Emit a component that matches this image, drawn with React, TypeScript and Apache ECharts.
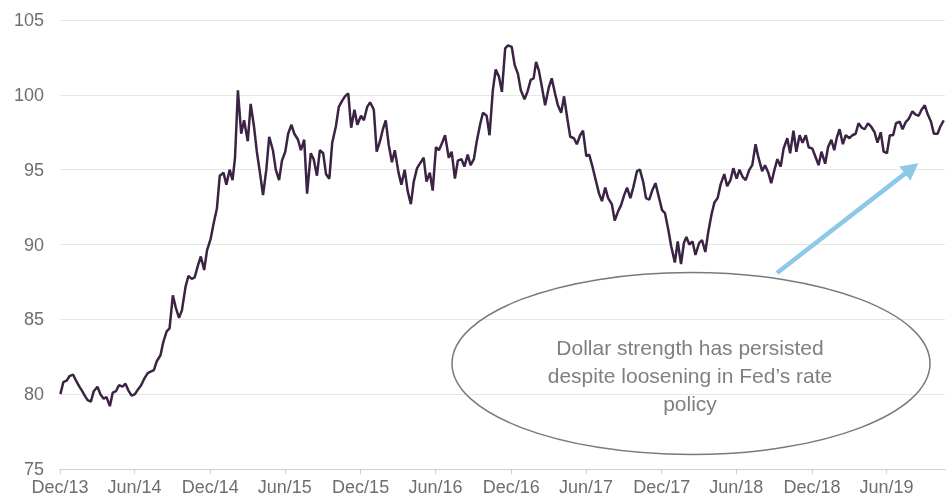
import React, { useEffect, useRef } from "react";
import * as echarts from "echarts";

// Tick labels shown on the x axis (each marks the end of that month)
const TICK_LABELS = ["Dec/13", "Jun/14", "Dec/14", "Jun/15", "Dec/15", "Jun/16", "Dec/16", "Jun/17", "Dec/17", "Jun/18", "Dec/18", "Jun/19"];
const MONTHS = ["Jan", "Feb", "Mar", "Apr", "May", "Jun", "Jul", "Aug", "Sep", "Oct", "Nov", "Dec"];
// Sampling days within each month (roughly weekly)
const WEEK_DAYS = [1, 8, 16, 23];
const Y_TICKS = [75, 80, 85, 90, 95, 100, 105];

// Dollar index, weekly readings, four per month, Jan..Dec of each year
const VALUES_2014 = [
  80.0, 80.8, 80.9, 81.2, 81.3, 80.9, 80.5, 80.2, 79.9, 79.6, 79.5, 80.2,
  80.5, 80.0, 79.7, 79.8, 79.2, 80.1, 80.2, 80.6, 80.5, 80.7, 80.2, 79.9,
  80.0, 80.3, 80.6, 81.0, 81.4, 81.5, 81.6, 82.2, 82.6, 83.5, 84.2, 84.4,
  86.6, 85.8, 85.1, 85.6, 87.2, 87.9, 87.7, 87.8, 88.6, 89.2, 88.3, 89.6,
];
const VALUES_2015 = [
  90.4, 91.4, 92.4, 94.6, 94.8, 94.0, 95.0, 94.3, 95.8, 100.3, 97.4, 98.3,
  96.9, 99.4, 97.9, 96.2, 94.7, 93.3, 95.0, 97.2, 96.3, 95.0, 94.3, 95.6,
  96.2, 97.4, 98.0, 97.4, 97.0, 96.3, 97.0, 93.4, 96.1, 95.7, 94.6, 96.3,
  96.1, 94.7, 94.4, 96.8, 97.9, 99.2, 99.6, 99.9, 100.1, 97.8, 99.0, 98.0,
];
const VALUES_2016 = [
  98.6, 98.3, 99.2, 99.5, 99.0, 96.2, 96.9, 97.7, 98.3, 96.7, 95.5, 96.3,
  94.8, 94.0, 95.0, 93.6, 92.7, 94.2, 95.1, 95.4, 95.8, 94.2, 94.8, 93.6,
  96.5, 96.3, 96.8, 97.3, 95.8, 96.2, 94.4, 95.6, 95.7, 95.2, 96.0, 95.3,
  95.7, 96.9, 98.0, 98.8, 98.6, 97.3, 100.3, 101.7, 101.2, 100.2, 103.1, 103.3,
];
const VALUES_2017 = [
  103.2, 102.0, 101.4, 100.3, 99.7, 100.2, 101.0, 101.1, 102.2, 101.6, 100.4, 99.3,
  100.5, 101.1, 100.1, 99.3, 98.8, 99.9, 98.4, 97.2, 97.1, 96.7, 97.3, 97.6,
  95.9, 96.0, 95.2, 94.4, 93.4, 92.9, 93.8, 93.1, 92.7, 91.6, 92.2, 92.6,
  93.3, 93.8, 93.1, 93.8, 94.9, 95.0, 94.2, 93.1, 93.0, 93.6, 94.1, 93.3,
];
const VALUES_2018 = [
  92.3, 92.1, 91.0, 89.9, 88.8, 90.2, 88.7, 90.1, 90.5, 90.0, 90.2, 89.3,
  90.1, 90.3, 89.5, 90.8, 92.0, 92.8, 93.1, 94.0, 94.7, 93.9, 94.3, 95.1,
  94.4, 95.0, 94.5, 94.3, 95.0, 95.3, 96.7, 95.8, 94.9, 95.3, 94.8, 94.1,
  95.0, 95.7, 95.2, 96.4, 97.1, 96.1, 97.6, 96.2, 97.3, 96.8, 97.3, 96.5,
];
const VALUES_2019 = [
  96.4, 95.9, 95.3, 96.2, 95.4, 96.5, 97.0, 96.3, 97.1, 97.7, 96.7, 97.3,
  97.1, 97.3, 97.4, 98.1, 97.8, 97.7, 98.1, 97.9, 97.5, 96.8, 97.5, 96.2,
  96.1, 97.3, 97.3, 98.1, 98.2, 97.7, 98.2, 98.4, 98.9, 98.7, 98.6, 99.0,
  99.3, 98.7, 98.2, 97.4, 97.4, 97.9, 98.3,
];
const YEARS = [2014, 2015, 2016, 2017, 2018, 2019];
const VALUES_BY_YEAR = [VALUES_2014, VALUES_2015, VALUES_2016, VALUES_2017, VALUES_2018, VALUES_2019];

const ANNOTATION = "Dollar strength has persisted\ndespite loosening in Fed\u2019s rate\npolicy";

function buildData(): [number, number][] {
  const out: [number, number][] = [];
  YEARS.forEach((yr, yi) => {
    VALUES_BY_YEAR[yi].forEach((v, i) => {
      const month = Math.floor(i / WEEK_DAYS.length);
      const day = WEEK_DAYS[i % WEEK_DAYS.length];
      out.push([Date.UTC(yr, month, day), v]);
    });
  });
  return out;
}

function tickValue(label: string): number {
  const [mon, yy] = label.split("/");
  const m = MONTHS.indexOf(mon);
  return Date.UTC(2000 + parseInt(yy, 10), m + 1, 0);
}

export default function App() {
  const ref = useRef<HTMLDivElement>(null);
  useEffect(() => {
    if (!ref.current) return;
    const chart = echarts.init(ref.current, undefined, { renderer: "svg" });
    const ticks = TICK_LABELS.map(tickValue);
    const font = "Liberation Sans";
    const tail = [777, 273];
    const tip = [918.3, 163.3];
    const dx = tip[0] - tail[0];
    const dy = tip[1] - tail[1];
    const len = Math.sqrt(dx * dx + dy * dy);
    const ux = dx / len, uy = dy / len;
    const hl = 17, hw = 9;
    const bx = tip[0] - hl * ux, by = tip[1] - hl * uy;
    chart.setOption({
      animation: false,
      grid: { left: 60, right: 7, top: 20, bottom: 32 },
      xAxis: {
        type: "value",
        min: ticks[0],
        max: Date.UTC(2019, 10, 19),
        splitLine: { show: false },
        axisLine: { show: true, lineStyle: { color: "#d0d0d0", width: 1 } },
        axisTick: { show: true, length: 5, lineStyle: { color: "#d0d0d0" }, customValues: ticks },
        axisLabel: {
          customValues: ticks,
          fontSize: 18,
          fontFamily: font,
          color: "#6e6e6e",
          margin: 9,
          formatter: (v: number) => {
            const d = new Date(v);
            return MONTHS[d.getUTCMonth()] + "/" + String(d.getUTCFullYear()).slice(2);
          },
        },
      },
      yAxis: {
        type: "value",
        min: Y_TICKS[0],
        max: Y_TICKS[Y_TICKS.length - 1],
        interval: 5,
        axisLine: { show: false },
        axisTick: { show: false },
        splitLine: { show: true, lineStyle: { color: "#e6e6e6", width: 1 } },
        axisLabel: { fontSize: 18, fontFamily: font, color: "#6e6e6e", margin: 16 },
      },
      series: [
        {
          type: "line",
          data: buildData(),
          showSymbol: false,
          symbol: "none",
          lineStyle: { color: "#3b2343", width: 2.5 },
          z: 3,
        },
      ],
      graphic: [
        {
          type: "ellipse",
          shape: { cx: 691, cy: 363.5, rx: 239, ry: 91 },
          style: { fill: "transparent", stroke: "#7a7a7a", lineWidth: 1.5 },
          z: 10,
        },
        {
          type: "text",
          x: 690,
          y: 375,
          style: {
            text: ANNOTATION,
            fill: "#7f7f7f",
            font: '21px "Liberation Sans"',
            align: "center",
            verticalAlign: "middle",
            lineHeight: 28,
          },
          z: 11,
        },
        {
          type: "line",
          shape: { x1: tail[0], y1: tail[1], x2: bx + ux, y2: by + uy },
          style: { stroke: "#8ec8e8", lineWidth: 4.5 },
          z: 10,
        },
        {
          type: "polygon",
          shape: {
            points: [
              [tip[0], tip[1]],
              [bx - hw * uy, by + hw * ux],
              [bx + hw * uy, by - hw * ux],
            ],
          },
          style: { fill: "#8ec8e8" },
          z: 10,
        },
      ],
    });
    return () => chart.dispose();
  }, []);
  return <div ref={ref} style={{ position: "fixed", left: 0, top: 0, width: 952, height: 501 }} />;
}
